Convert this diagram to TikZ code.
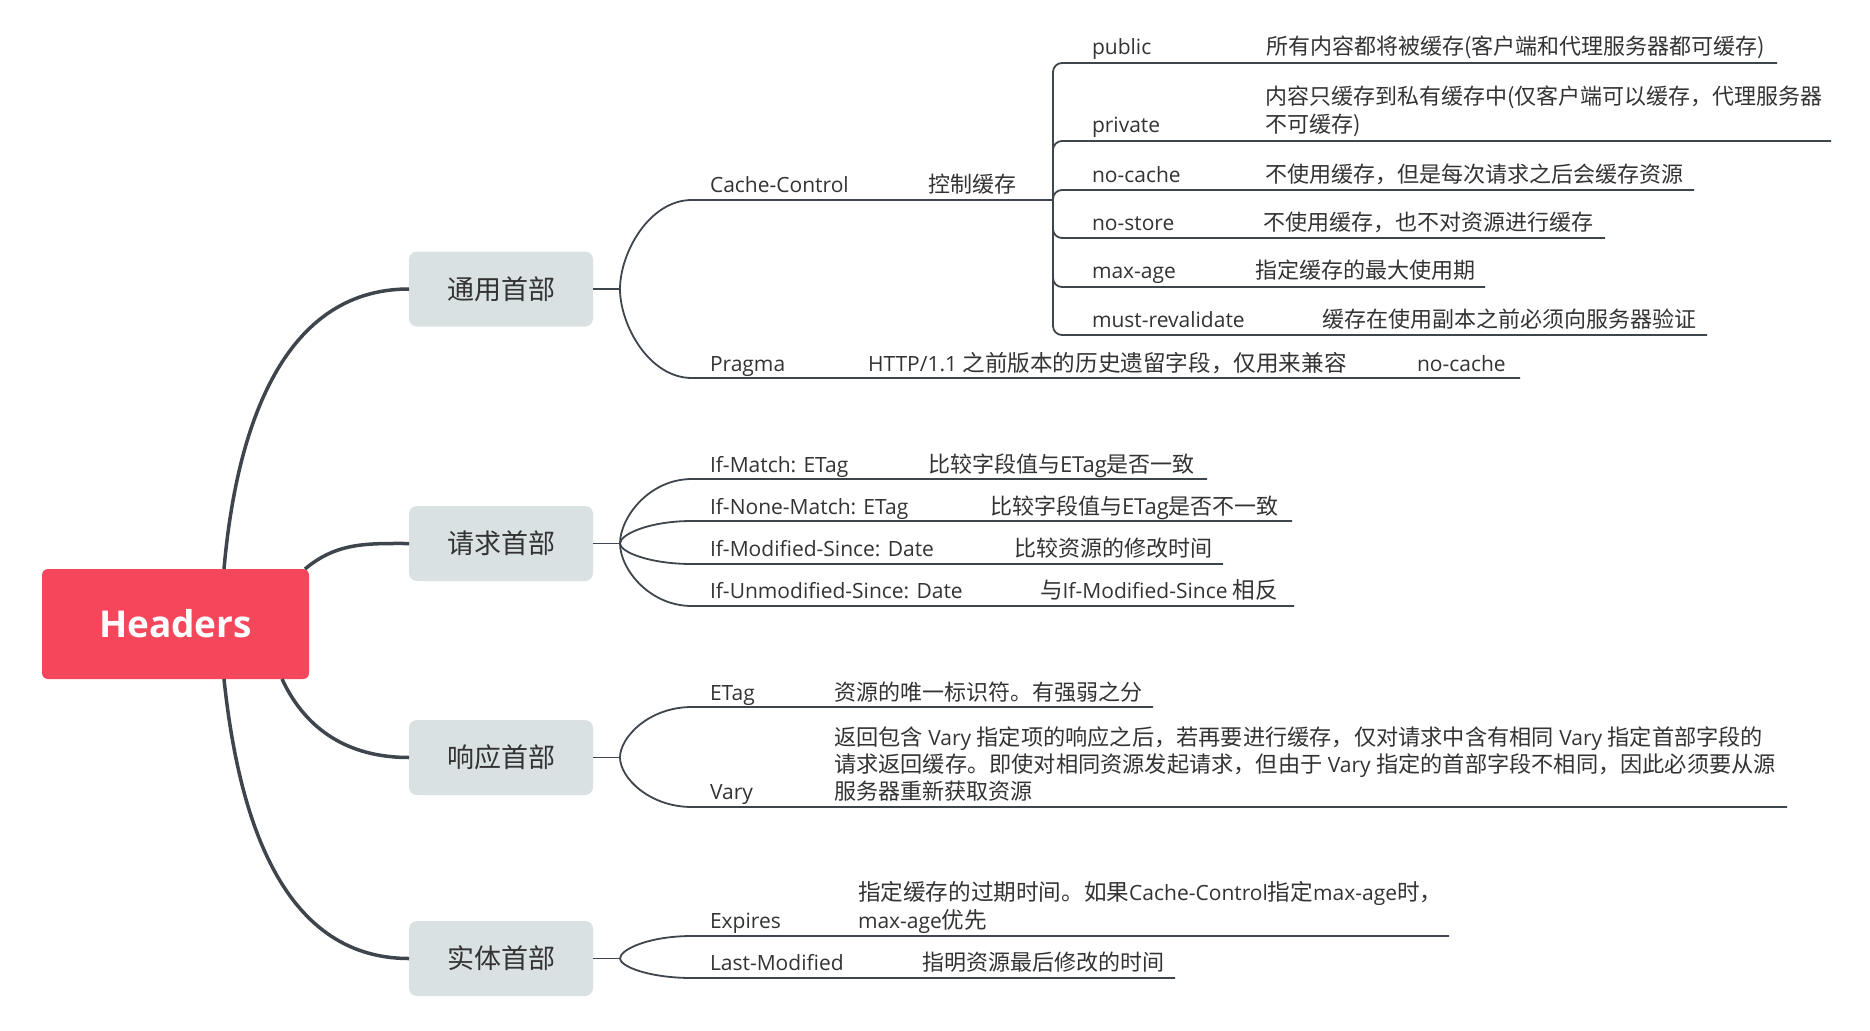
\documentclass[tikz,border=0pt]{standalone}
\usepackage{fontspec}
\setmainfont{Open Sans}
\newfontfamily\cjk{Noto Sans CJK SC}
\usetikzlibrary{calc}
\newcommand\zh[1]{{\cjk\fontsize{22.6}{27}\selectfont #1}}
\newcommand\zhv[1]{{\cjk\fontsize{22.2}{27}\selectfont #1}}
\definecolor{hred}{HTML}{F5475C}
\definecolor{boxgray}{HTML}{DAE1E2}
\definecolor{linecol}{HTML}{3F454C}
\definecolor{txt}{HTML}{333333}
\begin{document}
\begin{tikzpicture}[x=1pt,y=-1pt,
  every node/.style={inner sep=0pt, outer sep=0pt, text=txt},
  lbl/.style={anchor=base west, font=\fontsize{21}{26}\selectfont},
  dsc/.style={anchor=base west, font=\cjk\fontsize{22}{27}\selectfont},
  topic/.style={fill=boxgray, rounded corners=8, minimum width=184, minimum height=75, font=\cjk\fontsize{27}{30}\selectfont, text=txt},
  mainline/.style={draw=linecol, line width=3.5pt},
  subline/.style={draw=linecol, line width=1.8pt},
  bcurve/.style={to path={.. controls ($(\tikztostart)!0.4!(\tikztostart |- \tikztotarget)$) and ($(\tikztostart |- \tikztotarget)!0.4!(\tikztotarget)$) .. (\tikztotarget)}}
]
\useasboundingbox[fill=white] (0,0) rectangle (1870,1030);

% root and topics
\node[fill=hred, rounded corners=6, minimum width=267, minimum height=110,
      font=\bfseries\fontsize{37}{40}\selectfont, text=white] (root) at (175.5,624) {Headers};
\node[topic] (g1) at (501,289) {通用首部};
\node[topic] (g2) at (501,543.5) {请求首部};
\node[topic] (g3) at (501,757.5) {响应首部};
\node[topic] (g4) at (501,958.5) {实体首部};

\coordinate (r1) at ([xshift=182pt]root.north west);
\coordinate (r2) at ([xshift=-4pt]root.north east);
\coordinate (r3) at ([xshift=240pt]root.south west);
\coordinate (r4) at ([xshift=182pt]root.south west);
\draw[mainline] (r1) to[out=85,in=180] (g1.west);
\draw[mainline] (r2) to[out=40,in=180] (g2.west);
\draw[mainline] (r3) to[out=-65,in=180] (g3.west);
\draw[mainline] (r4) to[out=-84,in=180] (g4.west);

% stubs
\coordinate (s1) at (620,289);
\coordinate (s2) at (620,543.5);
\coordinate (s3) at (620,757.5);
\coordinate (s4) at (620,958.5);
\draw[subline] (g1.east) -- (s1);
\draw[subline] (g2.east) -- (s2);
\draw[subline] (g3.east) -- (s3);
\draw[subline] (g4.east) -- (s4);

% ---------- group 1 ----------
\node[lbl] (cc) at (710,192) {Cache-Control};
\node[dsc] (ccd) at (928,192) {控制缓存};
\coordinate (cc0) at (692,200);
\coordinate (cc1) at (1053,200);
\draw[subline] (s1) to[bcurve] (cc0) -- (cc1);

\node[lbl] (pub) at (1092,55) {public};
\node[dsc] (pubd) at (1266,55) {所有内容都将被缓存(客户端和代理服务器都可缓存)};
\node[lbl] (pri) at (1092,132) {private};
\node[dsc] (prid1) at (1265,105) {内容只缓存到私有缓存中(仅客户端可以缓存，代理服务器};
\node[dsc] (prid2) at (1265,132) {不可缓存)};
\node[lbl] (noc) at (1092,182) {no-cache};
\node[dsc] (nocd) at (1265,182) {不使用缓存，但是每次请求之后会缓存资源};
\node[lbl] (nos) at (1092,230) {no-store};
\node[dsc] (nosd) at (1263,230) {不使用缓存，也不对资源进行缓存};
\node[lbl] (max) at (1092,278) {max-age};
\node[dsc] (maxd) at (1255,278) {指定缓存的最大使用期};
\node[lbl] (must) at (1092,327) {must-revalidate};
\node[dsc] (mustd) at (1322,327) {缓存在使用副本之前必须向服务器验证};

\coordinate (pubE) at (1777,63);
\coordinate (priE) at (1831,141);
\coordinate (nocE) at (1694,190);
\coordinate (nosE) at (1605,238);
\coordinate (maxE) at (1485,287);
\coordinate (mustE) at (1707,335);
\foreach \e in {pubE,priE,nocE,nosE,maxE,mustE}
  \draw[subline, rounded corners=9pt] (cc1) |- (\e);

\node[lbl] (pra) at (710,371) {Pragma};
\node[lbl] (prad) at (868,371) {HTTP/1.1 \zh{之前版本的历史遗留字段，仅用来兼容}};
\node[lbl] (prav) at (1417,371) {no-cache};
\coordinate (pra0) at (692,378);
\coordinate (praE) at (1520,378);
\draw[subline] (s1) to[bcurve] (pra0) -- (praE);

% ---------- group 2 ----------
\node[lbl] (im) at (710,472) {If-Match: ETag};
\node[dsc] (imd) at (928,472) {比较字段值与{\fontspec{Open Sans}ETag}是否一致};
\node[lbl] (inm) at (710,514) {If-None-Match: ETag};
\node[dsc] (inmd) at (990,514) {比较字段值与{\fontspec{Open Sans}ETag}是否不一致};
\node[lbl] (ims) at (710,556) {If-Modified-Since: Date};
\node[dsc] (imsd) at (1014,556) {比较资源的修改时间};
\node[lbl] (ius) at (710,598) {If-Unmodified-Since: Date};
\node[lbl] (iusd) at (1040,598) {\zh{与}If-Modified-Since \zh{相反}};
\coordinate (im0) at (692,479);   \coordinate (imE) at (1207,479);
\coordinate (inm0) at (692,521);  \coordinate (inmE) at (1292,521);
\coordinate (ims0) at (692,564);  \coordinate (imsE) at (1223,564);
\coordinate (ius0) at (692,606);  \coordinate (iusE) at (1294,606);
\draw[subline] (s2) to[bcurve] (im0) -- (imE);
\draw[subline] (s2) to[bcurve] (inm0) -- (inmE);
\draw[subline] (s2) to[bcurve] (ims0) -- (imsE);
\draw[subline] (s2) to[bcurve] (ius0) -- (iusE);

% ---------- group 3 ----------
\node[lbl] (et) at (710,700) {ETag};
\node[dsc] (etd) at (834,700) {资源的唯一标识符。有强弱之分};
\node[lbl] (va) at (710,799) {Vary};
\node[lbl] (vad1) at (834,745) {\zhv{返回包含} Vary \zhv{指定项的响应之后，若再要进行缓存，仅对请求中含有相同} Vary \zhv{指定首部字段的}};
\node[lbl] (vad2) at (834,772) {\zhv{请求返回缓存。即使对相同资源发起请求，但由于} Vary \zhv{指定的首部字段不相同，因此必须要从源}};
\node[dsc] (vad3) at (834,799) {服务器重新获取资源};
\coordinate (et0) at (692,707);  \coordinate (etE) at (1153,707);
\coordinate (va0) at (692,807);  \coordinate (vaE) at (1787,807);
\draw[subline] (s3) to[bcurve] (et0) -- (etE);
\draw[subline] (s3) to[bcurve] (va0) -- (vaE);

% ---------- group 4 ----------
\node[lbl] (ex) at (710,928) {Expires};
\node[lbl] (exd1) at (858,900) {\zh{指定缓存的过期时间。如果}Cache-Control\zh{指定}max-age\zh{时，}};
\node[lbl] (exd2) at (858,928) {max-age\zh{优先}};
\node[lbl] (lm) at (710,970) {Last-Modified};
\node[dsc] (lmd) at (922,970) {指明资源最后修改的时间};
\coordinate (ex0) at (692,936);  \coordinate (exE) at (1449,936);
\coordinate (lm0) at (692,978);  \coordinate (lmE) at (1175,978);
\draw[subline] (s4) to[bcurve] (ex0) -- (exE);
\draw[subline] (s4) to[bcurve] (lm0) -- (lmE);
\end{tikzpicture}
\end{document}
